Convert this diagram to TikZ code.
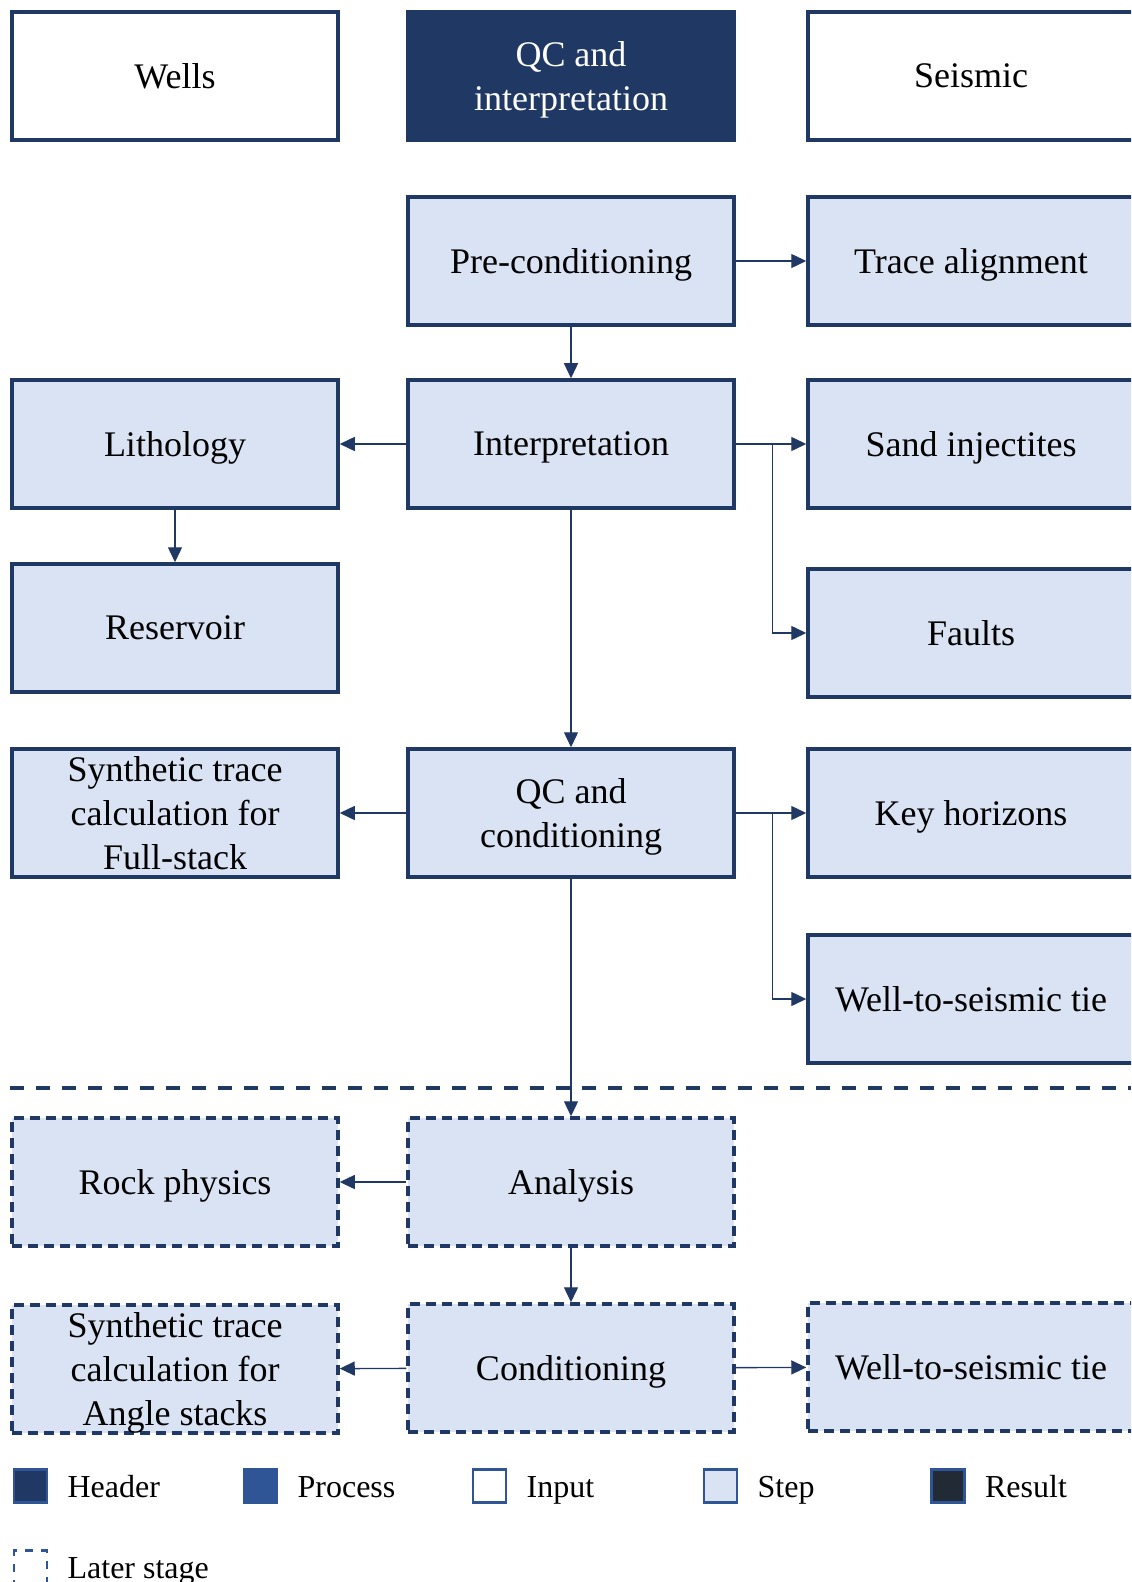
\documentclass[tikz,border=0pt]{standalone}
\usepackage{fontspec}
\setmainfont{Liberation Serif}
\usetikzlibrary{arrows.meta,positioning}
\definecolor{deepNavy}{RGB}{32,56,100}
\definecolor{midBlue}{RGB}{47,85,151}
\definecolor{paleBlue}{RGB}{218,227,243}
\definecolor{inkDark}{RGB}{34,42,53}

\begin{document}
\begin{tikzpicture}[
  x=0.5pt, y=-0.5pt,
  box/.style={draw=deepNavy, line width=1.75pt, minimum width=163pt, minimum height=64pt, inner sep=0pt, text depth=0pt, align=center, font=\fontsize{18}{22}\selectfont},
  input/.style={box, fill=white},
  header/.style={box, fill=deepNavy, text=white},
  stepbox/.style={box, fill=paleBlue},
  later/.style={stepbox, dash pattern=on 5pt off 3pt},
  arrow/.style={-{Triangle[length=7.5pt, width=7pt]}, draw=deepNavy, line width=0.7pt},
  sepline/.style={draw=deepNavy, line width=1.6pt, dash pattern=on 7pt off 6pt},
  key/.style={draw=midBlue, line width=1.2pt, minimum size=16.5pt, inner sep=0pt},
  keytext/.style={inner sep=0pt, text height=11pt, text depth=0pt, font=\fontsize{16}{19}\selectfont}
]
  \useasboundingbox (0,0) rectangle (1131,1582);
  \clip (0,0) rectangle (1131,1582);

  % column headers
  \node[input] (wells) at (175,76) {Wells};
  \node[header] (qchead) at (571,76) {QC and\\interpretation};
  \node[input] (seismic) at (971,76) {Seismic};

  % QC and interpretation steps
  \node[stepbox] (precond) at (571,261) {Pre-conditioning};
  \node[stepbox] (tracealign) at (971,261) {Trace alignment};
  \node[stepbox] (interp) at (571,444) {Interpretation};
  \node[stepbox] (litho) at (175,444) {Lithology};
  \node[stepbox] (sand) at (971,444) {Sand injectites};
  \node[stepbox] (reservoir) at (175,628) {Reservoir};
  \node[stepbox] (faults) at (971,633) {Faults};
  \node[stepbox] (synfull) at (175,813) {Synthetic trace\\calculation for\\Full-stack};
  \node[stepbox] (qccond) at (571,813) {QC and\\conditioning};
  \node[stepbox] (keyhor) at (971,813) {Key horizons};
  \node[stepbox] (welltie) at (971,999) {Well-to-seismic tie};

  % later stage
  \coordinate (sepL) at (10,1088);
  \coordinate (sepR) at (1131,1088);
  \draw[sepline] (sepL) -- (sepR);
  \node[later] (analysis) at (571,1182) {Analysis};
  \node[later] (rockphys) at (175,1182) {Rock physics};
  \node[later] (cond) at (571,1368) {Conditioning};
  \node[later] (synangle) at (175,1369) {Synthetic trace\\calculation for\\Angle stacks};
  \node[later] (welltielate) at (971,1367) {Well-to-seismic tie};

  \draw[arrow] (precond) -- (tracealign);
  \draw[arrow] (precond) -- (interp);
  \draw[arrow] (interp) -- (litho);
  \draw[arrow] (interp) -- (sand);
  \draw[arrow] (interp.east) -- ++(37,0) |- (faults.west);
  \draw[arrow] (litho) -- (reservoir);
  \draw[arrow] (interp) -- (qccond);
  \draw[arrow] (qccond) -- (synfull);
  \draw[arrow] (qccond) -- (keyhor);
  \draw[arrow] (qccond.east) -- ++(37,0) |- (welltie.west);
  \draw[arrow] (qccond) -- (analysis);
  \draw[arrow] (analysis) -- (rockphys);
  \draw[arrow] (analysis) -- (cond);
  \draw[arrow] (cond) -- (synangle);
  \draw[arrow] (cond) -- (welltielate);

  % legend
  \node[key, fill=deepNavy] (keyhead) at (30.5,1486) {};
  \node[keytext, right=9.5pt of keyhead] (keyheadtxt) {Header};
  \node[key, fill=midBlue] (keyproc) at (260.5,1486) {};
  \node[keytext, right=9.5pt of keyproc] (keyproctxt) {Process};
  \node[key, fill=white] (keyinput) at (489.5,1486) {};
  \node[keytext, right=9.5pt of keyinput] (keyinputtxt) {Input};
  \node[key, fill=paleBlue] (keystep) at (720.5,1486) {};
  \node[keytext, right=9.5pt of keystep] (keysteptxt) {Step};
  \node[key, fill=inkDark] (keyresult) at (948,1486) {};
  \node[keytext, right=9.5pt of keyresult] (keyresulttxt) {Result};
  \node[key, dash pattern=on 4pt off 4pt] (keylater) at (30.5,1567) {};
  \node[keytext, right=9.5pt of keylater] (keylatertxt) {Later stage};
\end{tikzpicture}
\end{document}
